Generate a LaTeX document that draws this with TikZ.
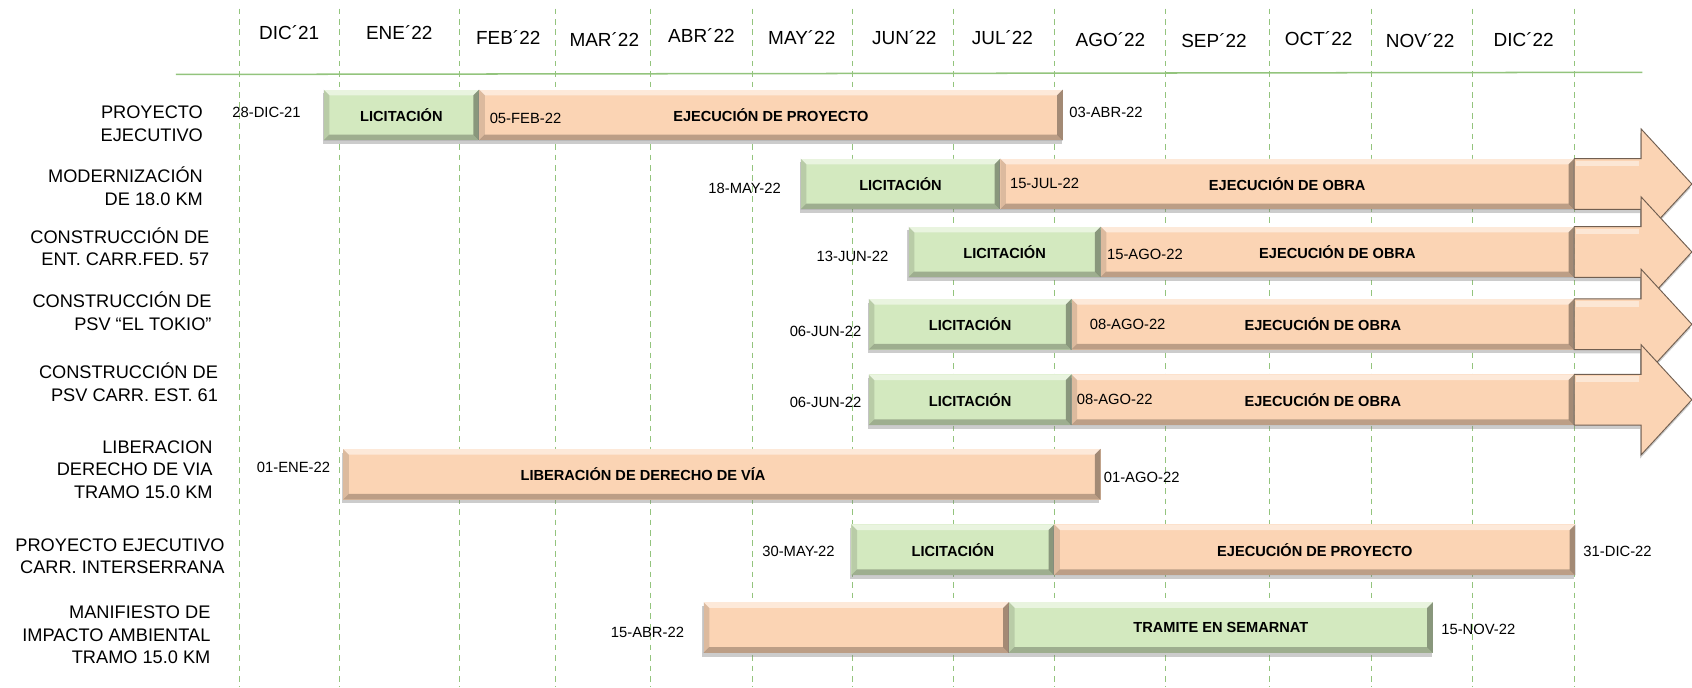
\documentclass[tikz,border=0pt]{standalone}
\usepackage{fontspec}
\setmainfont{Liberation Sans}
\usetikzlibrary{shapes,arrows,positioning,shadows,calc}

\definecolor{naranja}{HTML}{FBD4B4}
\definecolor{verde}{HTML}{D3E9BF}
\definecolor{verdelinea}{HTML}{93C47D}

\begin{document}
\begin{tikzpicture}[x=0.02cm, y=-0.02cm,
    every node/.style={font=\fontsize{7.8}{9}\selectfont, inner sep=0pt, outer sep=0pt},
    rejilla/.style={verdelinea, dash pattern=on 3pt off 2.5pt, line width=0.5pt},
    mes/.style={font=\fontsize{10}{12}\selectfont},
    etiqueta/.style={font=\fontsize{9.6}{11.9}\selectfont, align=right, anchor=east},
    bisel/.style={path picture={
        \fill[white, opacity=0.5] (path picture bounding box.north west) -- (path picture bounding box.north east)
            -- ([shift={(-3pt,-3pt)}]path picture bounding box.north east) -- ([shift={(3pt,-3pt)}]path picture bounding box.north west) -- cycle;
        \fill[black, opacity=0.25] (path picture bounding box.south west) -- (path picture bounding box.south east)
            -- ([shift={(-3pt,3pt)}]path picture bounding box.south east) -- ([shift={(3pt,3pt)}]path picture bounding box.south west) -- cycle;
        \fill[black, opacity=0.12] (path picture bounding box.north west) -- ([shift={(3pt,-3pt)}]path picture bounding box.north west)
            -- ([shift={(3pt,3pt)}]path picture bounding box.south west) -- (path picture bounding box.south west) -- cycle;
        \fill[black, opacity=0.35] (path picture bounding box.north east) -- ([shift={(-3pt,-3pt)}]path picture bounding box.north east)
            -- ([shift={(-3pt,3pt)}]path picture bounding box.south east) -- (path picture bounding box.south east) -- cycle;
    }},
    barra/.style={rectangle, minimum height=0.94cm, anchor=north west, bisel,
        font=\bfseries\fontsize{7.7}{9}\selectfont,
        drop shadow={shadow xshift=-0.6pt, shadow yshift=-2pt, opacity=0.4}},
    lic/.style={barra, fill=verde},
    eje/.style={barra, fill=naranja},
    flecha/.style={fill=naranja, draw=naranja!45!black, line width=0.5pt,
        drop shadow={shadow xshift=-0.6pt, shadow yshift=-2pt, opacity=0.4}}]

    \useasboundingbox (0,0) rectangle (1568,637);

    % meses
    \foreach \x in {222,315,426,515,603,697,790,884,977,1080,1176,1271,1365,1459}
        \draw[rejilla] (\x,8) -- (\x,637);
    \draw[verdelinea, line width=0.8pt] (163,69) -- (1522,67);

    \node[mes] (dic21) at (268,30) {DIC´21};
    \node[mes] (ene22) at (370,30) {ENE´22};
    \node[mes] (feb22) at (471,35) {FEB´22};
    \node[mes] (mar22) at (560,37) {MAR´22};
    \node[mes] (abr22) at (650,33) {ABR´22};
    \node[mes] (may22) at (743,35) {MAY´22};
    \node[mes] (jun22) at (838,35) {JUN´22};
    \node[mes] (jul22) at (929,35) {JUL´22};
    \node[mes] (ago22) at (1029,37) {AGO´22};
    \node[mes] (sep22) at (1125,38) {SEP´22};
    \node[mes] (oct22) at (1222,36) {OCT´22};
    \node[mes] (nov22) at (1316,38) {NOV´22};
    \node[mes] (dic22) at (1412,37) {DIC´22};

    % actividades
    \node[etiqueta] (pe1) at (188,114.5) {PROYECTO\\EJECUTIVO};
    \node[etiqueta] (mod) at (188,172.5) {MODERNIZACIÓN\\DE 18.0 KM};
    \node[etiqueta] (ent57) at (194,228.5) {CONSTRUCCIÓN DE\\ENT. CARR.FED. 57};
    \node[etiqueta] (tokio) at (196,288.5) {CONSTRUCCIÓN DE\\PSV “EL TOKIO”};
    \node[etiqueta] (est61) at (202,354) {CONSTRUCCIÓN DE\\PSV CARR. EST. 61};
    \node[etiqueta] (ddv) at (197,435) {LIBERACION\\DERECHO DE VIA\\TRAMO 15.0 KM};
    \node[etiqueta] (inter) at (208,515.5) {PROYECTO EJECUTIVO\\CARR. INTERSERRANA};
    \node[etiqueta] (mia) at (195,588.5) {MANIFIESTO DE\\IMPACTO AMBIENTAL\\TRAMO 15.0 KM};

    % barras
    \node[lic, minimum width=2.88cm] (lic1) at (300,83) {LICITACIÓN};
    \node[eje, minimum width=10.82cm, right=0pt of lic1] (eje1) {EJECUCIÓN DE PROYECTO};
    \node (f1a) at (247,104) {28-DIC-21};
    \node (f1b) at (487,110) {05-FEB-22};
    \node (f1c) at (1025,104) {03-ABR-22};

    \node[lic, minimum width=3.70cm] (lic2) at (742,147) {LICITACIÓN};
    \node[eje, minimum width=10.64cm, right=0pt of lic2] (eje2) {EJECUCIÓN DE OBRA};
    \node (f2a) at (690,175) {18-MAY-22};
    \node (f2b) at (968,170) {15-JUL-22};

    \node[lic, minimum width=3.56cm] (lic3) at (842,210) {LICITACIÓN};
    \node[eje, minimum width=8.78cm, right=0pt of lic3] (eje3) {EJECUCIÓN DE OBRA};
    \node (f3a) at (790,238) {13-JUN-22};
    \node (f3b) at (1061,236) {15-AGO-22};

    \node[lic, minimum width=3.76cm] (lic4) at (805,277) {LICITACIÓN};
    \node[eje, minimum width=9.32cm, right=0pt of lic4] (eje4) {EJECUCIÓN DE OBRA};
    \node (f4a) at (765,307) {06-JUN-22};
    \node (f4b) at (1045,301) {08-AGO-22};

    \node[lic, minimum width=3.76cm] (lic5) at (805,347) {LICITACIÓN};
    \node[eje, minimum width=9.32cm, right=0pt of lic5] (eje5) {EJECUCIÓN DE OBRA};
    \node (f5a) at (765,373) {06-JUN-22};
    \node (f5b) at (1033,370) {08-AGO-22};

    \node[eje, minimum width=14.04cm,
        label={[font=\bfseries\fontsize{7.7}{9}\selectfont, xshift=-1.46cm]center:LIBERACIÓN DE DERECHO DE VÍA}] (eje6) at (318,416) {};
    \node (f6a) at (272,433) {01-ENE-22};
    \node (f6b) at (1058,442) {01-AGO-22};

    \node[lic, minimum width=3.76cm] (lic7) at (789,486) {LICITACIÓN};
    \node[eje, minimum width=9.66cm, right=0pt of lic7] (eje7) {EJECUCIÓN DE PROYECTO};
    \node (f7a) at (740,511) {30-MAY-22};
    \node (f7b) at (1499,511) {31-DIC-22};

    \node[eje, minimum width=5.66cm] (eje8) at (652,558) {};
    \node[lic, minimum width=7.86cm, right=0pt of eje8] (sem8) {TRAMITE EN SEMARNAT};
    \node (f8a) at (600,586) {15-ABR-22};
    \node (f8b) at (1370,583) {15-NOV-22};

    % flechas de obra
    \foreach \f in {eje2,eje3,eje4,eje5} {
        \draw[flecha] (\f.north east) -- ++(1.24cm,0) -- ++(0,0.55cm) -- ($(\f.east)+(2.18cm,0)$)
            -- ($(\f.south east)+(1.24cm,-0.55cm)$) -- ++(0,0.55cm) -- (\f.south east) -- cycle;
        \fill[white, opacity=0.45] ([xshift=1pt,yshift=-1pt]\f.north east) rectangle ([xshift=1.2cm,yshift=-4pt]\f.north east);
    }
\end{tikzpicture}
\end{document}
